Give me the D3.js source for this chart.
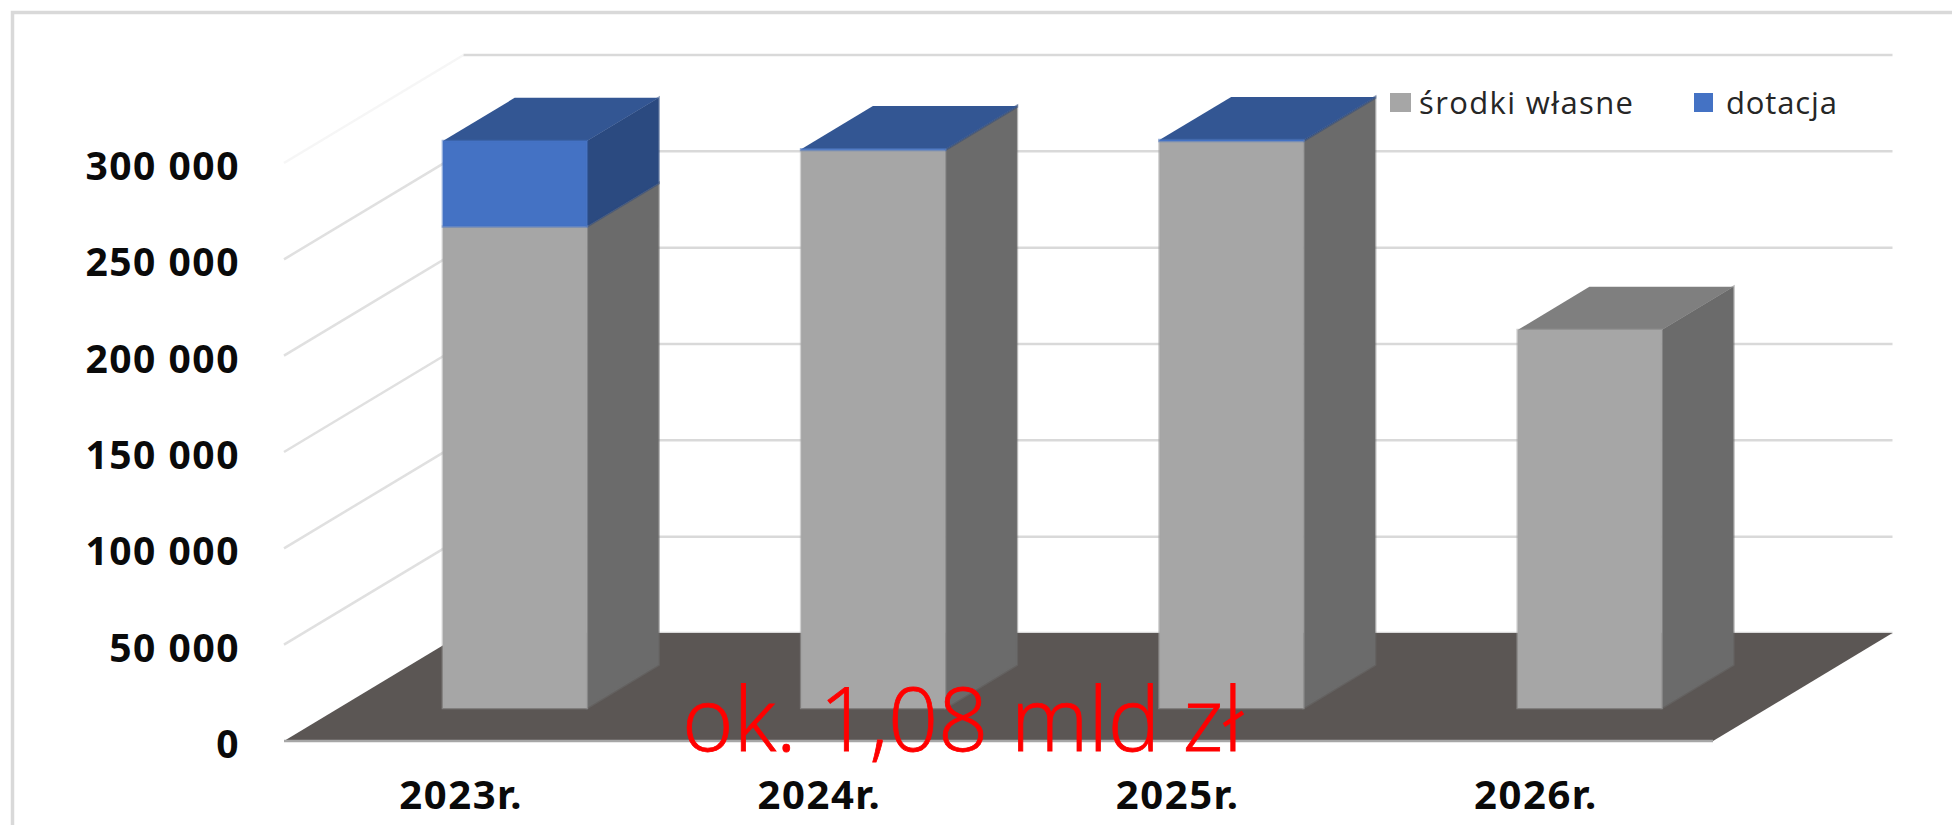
<!DOCTYPE html>
<html>
<head>
<meta charset="utf-8">
<script src="https://cdn.jsdelivr.net/npm/d3@7"></script>
<style>
  html, body { margin: 0; padding: 0; background: #fff; }
  svg { display: block; }
</style>
</head>
<body>
<div id="chart"></div>
<script>
const years = ["2023r.", "2024r.", "2025r.", "2026r."];
const srodkiWlasne = [250000, 289700, 294300, 196200];
const dotacja = [44300, 400, 500, 0];
const yTicks = [0, 50000, 100000, 150000, 200000, 250000, 300000];
const seriesNames = ["środki własne", "dotacja"];

const width = 1952, height = 825;

// oblique projection of the excel 3d chart: depth 0 = front of floor, 1 = back wall
const floorY = 741, floorLeft = 284, floorRight = 1713;
const depthDx = 179.5, depthDy = 108;
const barFront = 0.305, barBack = 0.705;

const colors = {
  front: ["#a6a6a6", "#4472c4"],
  side: ["#6b6b6b", "#2b4a80"],
  top: ["#7f7f7f", "#335693"]
};

const svg = d3.select("#chart").append("svg")
    .attr("width", width)
    .attr("height", height);

const x = d3.scaleBand()
    .domain(years)
    .range([281, 1714])
    .paddingInner(0.598)
    .paddingOuter(0.299);

const yFront = d3.scaleLinear().domain([0, 300000]).range([floorY, floorY - 578]);

const project = (px, value, depth) => [px + depth * depthDx, yFront(value) - depth * depthDy];
const poly = d3.line();

// outer frame, only left and top are visible
svg.append("path")
    .attr("d", `M${12.5},${height} V${12.5} H${width}`)
    .attr("fill", "none")
    .attr("stroke", "#d9d9d9")
    .attr("stroke-width", 3.5);

// walls
const wall = svg.append("g")
    .attr("fill", "none")
    .attr("stroke", "#d9d9d9")
    .attr("stroke-width", 2.5);

wall.selectAll("path.side")
  .data(yTicks.slice(1))
  .join("path")
    .attr("class", "side")
    .attr("stroke", d => d === 300000 ? "#f6f6f6" : "#e0e0e0")
    .attr("d", d => poly([project(floorLeft, d, 0), project(floorLeft, d, 1)]));

wall.selectAll("path.back")
  .data(yTicks)
  .join("path")
    .attr("class", "back")
    .attr("d", d => poly([project(floorLeft, d, 1), project(floorRight, d, 1)]));

// floor
svg.append("path")
    .attr("fill", "#5b5654")
    .attr("d", poly([
      project(floorLeft, 0, 0),
      project(floorLeft, 0, 1),
      project(floorRight, 0, 1),
      project(floorRight, 0, 0)
    ]) + "Z");

svg.append("path")
    .attr("stroke", "#a6a6a6")
    .attr("stroke-width", 2.5)
    .attr("d", poly([project(floorLeft, 0, 0), project(floorRight, 0, 0)]));

// bars
const rows = years.map((year, i) => ({year, own: srodkiWlasne[i], grant: dotacja[i]}));
const stacked = d3.stack().keys(["own", "grant"])(rows);

const segments = rows.map((row, i) => stacked
  .map((s, k) => ({year: row.year, k, v0: s[i][0], v1: s[i][1]}))
  .filter(d => d.v1 > d.v0));

const bar = svg.append("g").selectAll("g")
  .data(segments)
  .join("g");

const topOf = segs => segs[segs.length - 1];

// half transparent stroke gives the soft edge of the resampled original
const face = (sel, fill) => sel
    .attr("fill", fill)
    .attr("stroke", fill)
    .attr("stroke-opacity", 0.5)
    .attr("stroke-width", 2.5);

bar.selectAll("path.side")
  .data(d => d)
  .join("path")
    .attr("class", "side")
    .call(face, d => colors.side[d.k])
    .attr("d", d => {
      const r = x(d.year) + x.bandwidth();
      return poly([
        project(r, d.v0, barFront), project(r, d.v0, barBack),
        project(r, d.v1, barBack), project(r, d.v1, barFront)
      ]) + "Z";
    });

bar.append("path")
    .attr("fill", d => colors.top[topOf(d).k])
    .attr("d", d => {
      const t = topOf(d), l = x(t.year), r = l + x.bandwidth();
      return poly([
        project(l, t.v1, barFront), project(l, t.v1, barBack),
        project(r, t.v1, barBack), project(r, t.v1, barFront)
      ]) + "Z";
    });

bar.selectAll("path.front")
  .data(d => d)
  .join("path")
    .attr("class", "front")
    .call(face, d => colors.front[d.k])
    .attr("d", d => {
      const l = x(d.year), r = l + x.bandwidth();
      return poly([
        project(l, d.v0, barFront), project(l, d.v1, barFront),
        project(r, d.v1, barFront), project(r, d.v0, barFront)
      ]) + "Z";
    });

// axes
const plFormat = d3.formatLocale({decimal: ",", thousands: " ", grouping: [3], currency: ["", " zł"]}).format(",");

const yAxis = svg.append("g")
    .attr("transform", "translate(240,4)")
    .call(d3.axisLeft(yFront).tickValues(yTicks).tickFormat(plFormat).tickSize(0).tickPadding(0));
yAxis.select(".domain").remove();
yAxis.selectAll(".tick text")
    .attr("font-size", 39)
    .attr("letter-spacing", 1.5);

const xAxis = svg.append("g")
    .attr("transform", "translate(1,780.6)")
    .call(d3.axisBottom(x).tickSize(0).tickPadding(0));
xAxis.select(".domain").remove();
xAxis.selectAll(".tick text")
    .attr("font-size", 40)
    .attr("letter-spacing", 1.6);

svg.selectAll(".tick text")
    .attr("font-family", "'Noto Sans'")
    .attr("font-weight", "bold")
    .attr("fill", "#0a0a0a");

// legend
const legendSwatch = [1390, 1694], legendText = [1419, 1726];
const legend = svg.append("g").selectAll("g")
  .data(seriesNames)
  .join("g");

legend.append("rect")
    .attr("x", (d, i) => legendSwatch[i])
    .attr("y", 93)
    .attr("width", (d, i) => i === 0 ? 21 : 19)
    .attr("height", 19)
    .attr("fill", (d, i) => colors.front[i]);

legend.append("text")
    .attr("x", (d, i) => legendText[i])
    .attr("y", 113.5)
    .attr("font-family", "'Open Sans'")
    .attr("font-size", 31)
    .attr("fill", "#262626")
    .attr("textLength", (d, i) => i === 0 ? 214 : 111)
    .text(d => d);

// red annotation over the floor
svg.append("text")
    .attr("x", 682)
    .attr("y", 751)
    .attr("font-family", "'Open Sans'")
    .attr("font-weight", 300)
    .attr("font-size", 88)
    .attr("fill", "#ff0000")
    .attr("stroke", "#ff0000")
    .attr("stroke-width", 0.8)
    .attr("textLength", 561)
    .text("ok. 1,08 mld zł");
</script>
</body>
</html>
